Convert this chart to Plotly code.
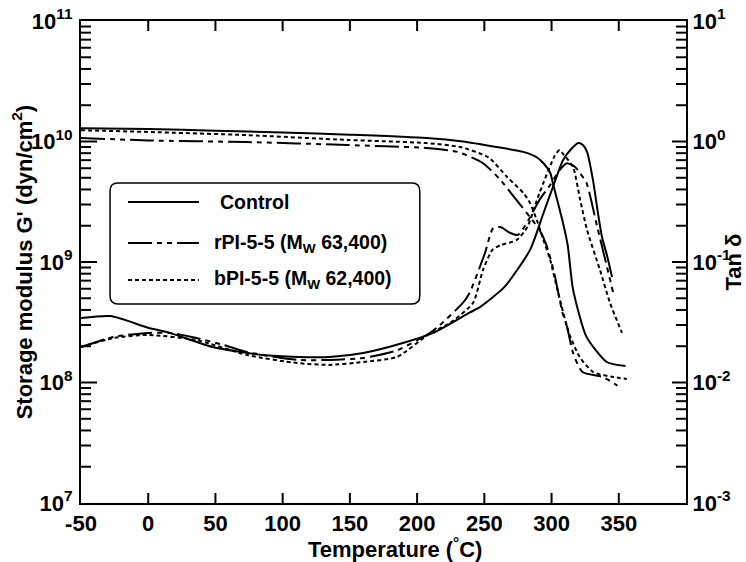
import math
import plotly.graph_objects as go

# ---- Storage modulus G' (dyn/cm^2), left axis ----
T_ctrl_G = [-50, 0, 50, 100, 150, 207, 234, 259, 279, 289, 294, 299, 301, 308, 312, 316, 326, 341, 355]
G_ctrl = [1.29e10, 1.27e10, 1.23e10, 1.19e10, 1.14e10, 1.07e10, 1.0e10, 9.0e9, 8.2e9, 7.4e9, 6.6e9,
          5.5e9, 4.5e9, 2.23e9, 1.38e9, 5.9e8, 2.39e8, 1.48e8, 1.37e8]

T_rpi_G = [-50, 0, 73, 148, 207, 230, 249, 262, 275, 284, 291, 296, 302, 308, 311.5, 316, 323, 338, 349]
G_rpi = [1.07e10, 1.02e10, 9.9e9, 9.35e9, 8.83e9, 8.2e9, 6.6e9, 4.8e9, 3.15e9, 2.36e9, 1.85e9, 1.4e9,
         8.1e8, 3.85e8, 2.9e8, 1.76e8, 1.22e8, 1.11e8, 9.4e7]

T_bpi_G = [-50, 0, 73, 148, 207, 232, 253, 267, 279, 284, 289, 294, 299, 305, 313, 321, 331, 346, 356]
G_bpi = [1.24e10, 1.2e10, 1.13e10, 1.03e10, 9.7e9, 9.0e9, 7.4e9, 5.07e9, 3.74e9, 3.09e9, 2.23e9, 1.52e9,
         1.04e9, 5.5e8, 2.57e8, 1.62e8, 1.22e8, 1.11e8, 1.07e8]

# ---- Tan delta, right axis ----
T_ctrl_tan = [-50, -28, 0, 16, 48, 85, 111, 135, 160, 192, 212, 239, 247, 265, 284, 294, 301, 308.5, 314,
              320, 323.5, 326.4, 330.8, 334.5, 337.5, 341.2, 345]
tan_ctrl = [0.0343, 0.0356, 0.0285, 0.0258, 0.0197, 0.0169, 0.0163, 0.0163, 0.0176, 0.0217, 0.0258, 0.038,
            0.0424, 0.0621, 0.126, 0.255, 0.419, 0.70, 0.85, 0.97, 0.93, 0.82, 0.48, 0.255, 0.161, 0.114, 0.075]

T_rpi_tan = [-50, -26, 0, 16, 36, 56, 73.5, 111, 135, 160, 185, 210, 217, 234, 239, 250.5, 256.5, 262, 269,
             275, 282, 291, 299, 306, 311.5, 317.5, 321, 326, 334, 340, 345.7]
tan_rpi = [0.0197, 0.0239, 0.0258, 0.0258, 0.0234, 0.0205, 0.0179, 0.0154, 0.0154, 0.016, 0.0185, 0.026,
           0.030, 0.0457, 0.0553, 0.119, 0.191, 0.195, 0.175, 0.168, 0.215, 0.327, 0.436, 0.58, 0.66, 0.614,
           0.55, 0.453, 0.195, 0.104, 0.0564]

T_bpi_tan = [-50, -26, 0, 36, 73.5, 111, 135, 160, 185, 210, 224.5, 241.6, 249, 256, 262, 274, 282, 291,
             302.6, 306, 308.5, 316, 321, 326.4, 336, 343.5, 352.4]
tan_bpi = [0.0197, 0.0234, 0.0248, 0.0225, 0.0169, 0.0145, 0.014, 0.0148, 0.0163, 0.0258, 0.0312, 0.0457,
           0.086, 0.126, 0.138, 0.152, 0.195, 0.374, 0.77, 0.85, 0.79, 0.614, 0.34, 0.184, 0.086, 0.0457, 0.0258]

SUP = '<sup style="font-size:13px">{}</sup>'
x_ticks = [-50, 0, 50, 100, 150, 200, 250, 300, 350]
x_labels = ["-50", "0", "50", "100", "150", "200", "250", "300", "350"]
left_ticks = [1e7, 1e8, 1e9, 1e10, 1e11]
left_exps = ["7", "8", "9", "10", "11"]
left_labels = ["10" + SUP.format(e) for e in left_exps]
right_ticks = [1e-3, 1e-2, 1e-1, 1e0, 1e1]
right_exps = ["-3", "-2", "-1", "0", "1"]
right_labels = ["10" + SUP.format(e) for e in right_exps]
left_minor = [m * 10.0 ** e for e in range(7, 11) for m in range(2, 10)]
right_minor = [m * 10.0 ** e for e in range(-3, 1) for m in range(2, 10)]

LEFT_RANGE = [7, 11]
RIGHT_RANGE = [-3, 1]

legend_names = ["Control", "rPI-5-5 (M<sub>W</sub> 63,400)", "bPI-5-5 (M<sub>W</sub> 62,400)"]

SOLID = "solid"
DASHDOT = "24px,5px,5px,5px,5px,5px"
DOT = "4px,3px"
FONT = "Liberation Sans, Arial, sans-serif"

fig = go.Figure()

def add(x, y, dash, axis):
    fig.add_trace(go.Scatter(x=x, y=y, mode="lines", yaxis=axis, showlegend=False,
                             line=dict(color="black", width=2, dash=dash, shape="spline", smoothing=0.6)))

add(T_ctrl_G, G_ctrl, SOLID, "y")
add(T_rpi_G, G_rpi, DASHDOT, "y")
add(T_bpi_G, G_bpi, DOT, "y")
add(T_ctrl_tan, tan_ctrl, SOLID, "y2")
add(T_rpi_tan, tan_rpi, DASHDOT, "y2")
add(T_bpi_tan, tan_bpi, DOT, "y2")

tickfont = dict(family=FONT, size=22, color="black", weight="bold")
titlefont = dict(family=FONT, size=22, color="black", weight="bold")

fig.update_layout(
    width=746, height=562,
    margin=dict(l=81, r=60, t=21, b=59, autoexpand=False),
    paper_bgcolor="white", plot_bgcolor="white",
    xaxis=dict(range=[-50, 400], tickmode="array", tickvals=x_ticks, ticktext=x_labels, ticks="",
               showline=True, linewidth=2, linecolor="black", mirror=True, showgrid=False,
               zeroline=False, tickfont=tickfont, automargin=False),
    yaxis=dict(type="log", range=LEFT_RANGE, tickmode="array", tickvals=left_ticks, ticktext=left_labels,
               ticks="", showline=True, linewidth=2, linecolor="black", showgrid=False, zeroline=False,
               tickfont=tickfont, ticklabelstandoff=2, automargin=False),
    yaxis2=dict(type="log", range=RIGHT_RANGE, overlaying="y", side="right", tickmode="array",
                tickvals=right_ticks, ticktext=right_labels, ticks="", showline=True, linewidth=2,
                linecolor="black", showgrid=False, zeroline=False, tickfont=tickfont, automargin=False,
                anchor="x"),
)

# inward tick marks, drawn as pixel-sized shapes anchored to the frame
TICK = dict(color="black", width=2)
for v in x_ticks[1:]:
    fig.add_shape(type="line", xref="x", x0=v, x1=v, yref="paper", ysizemode="pixel", yanchor=0,
                  y0=0, y1=10, line=TICK, layer="above")
    fig.add_shape(type="line", xref="x", x0=v, x1=v, yref="paper", ysizemode="pixel", yanchor=1,
                  y0=0, y1=-10, line=TICK, layer="above")

def frac(v, rng):
    return (math.log10(v) - rng[0]) / (rng[1] - rng[0])

for v in left_ticks[1:-1]:
    p = frac(v, LEFT_RANGE)
    fig.add_shape(type="line", yref="paper", y0=p, y1=p, xref="paper", xsizemode="pixel", xanchor=0,
                  x0=0, x1=16, line=TICK, layer="above")
for v in left_minor:
    p = frac(v, LEFT_RANGE)
    fig.add_shape(type="line", yref="paper", y0=p, y1=p, xref="paper", xsizemode="pixel", xanchor=0,
                  x0=0, x1=10, line=TICK, layer="above")
for v in right_ticks[1:-1]:
    p = frac(v, RIGHT_RANGE)
    fig.add_shape(type="line", yref="paper", y0=p, y1=p, xref="paper", xsizemode="pixel", xanchor=1,
                  x0=0, x1=-14, line=TICK, layer="above")
for v in right_minor:
    p = frac(v, RIGHT_RANGE)
    fig.add_shape(type="line", yref="paper", y0=p, y1=p, xref="paper", xsizemode="pixel", xanchor=1,
                  x0=0, x1=-10, line=TICK, layer="above")

# axis titles
fig.add_annotation(text="Temperature (<sup>°</sup>C)", xref="paper", yref="paper", x=0.519, y=-0.093,
                   xanchor="center", yanchor="middle", showarrow=False, font=titlefont)
fig.add_annotation(text="Storage modulus G' (dyn/cm<sup>2</sup>)", xref="paper", yref="paper", x=-0.097,
                   y=0.5, xanchor="center", yanchor="middle", textangle=-90, showarrow=False, font=titlefont)
fig.add_annotation(text="Tan δ", xref="paper", yref="paper", x=1.077, y=0.5, xanchor="center",
                   yanchor="middle", textangle=-90, showarrow=False, font=titlefont)

# legend box (rounded) drawn in paper coordinates
x0, x1, y0, y1 = 0.048, 0.560, 0.413, 0.664
rx, ry = 0.013, 0.017
path = (f"M {x0+rx},{y1} L {x1-rx},{y1} Q {x1},{y1} {x1},{y1-ry} L {x1},{y0+ry} Q {x1},{y0} {x1-rx},{y0} "
        f"L {x0+rx},{y0} Q {x0},{y0} {x0},{y0+ry} L {x0},{y1-ry} Q {x0},{y1} {x0+rx},{y1} Z")
fig.add_shape(type="path", path=path, xref="paper", yref="paper",
              line=dict(color="black", width=1.5), fillcolor="white", layer="above")

leg_y = [0.6245, 0.5394, 0.4627]
leg_dash = [SOLID, DASHDOT, DOT]
leg_tx = [0.2264, 0.2165, 0.2165]
for name, yy, d, tx in zip(legend_names, leg_y, leg_dash, leg_tx):
    fig.add_shape(type="line", xref="paper", yref="paper", x0=0.0777, x1=0.1950, y0=yy, y1=yy,
                  line=dict(color="black", width=2, dash=d), layer="above")
    fig.add_annotation(text=name, xref="paper", yref="paper", x=tx, y=yy, xanchor="left", yanchor="middle",
                       showarrow=False, font=dict(family=FONT, size=19.5, color="black", weight="bold"))

fig.write_html("out.html")
